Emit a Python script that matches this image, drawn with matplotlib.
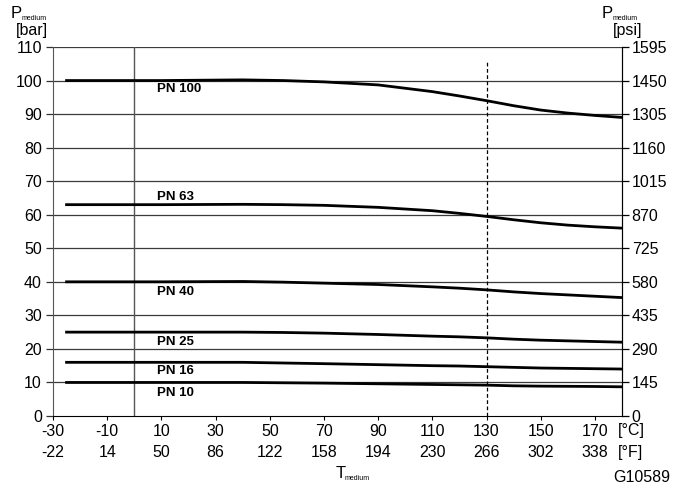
import matplotlib
matplotlib.use("Agg")
import matplotlib.pyplot as plt

plt.rcParams['font.family'] = ['Liberation Sans', 'DejaVu Sans']

# ---- data ----
temps_c = [-25, 10, 40, 55, 70, 90, 110, 120, 130, 140, 150, 160, 170, 180]
pn100 = [100, 100, 100.2, 100.0, 99.6, 98.7, 96.7, 95.4, 94.0, 92.5, 91.2, 90.3, 89.6, 89.0]
pn63 = [63, 63, 63.1, 63.0, 62.8, 62.2, 61.2, 60.4, 59.5, 58.5, 57.6, 56.9, 56.4, 56.0]
pn40 = [40, 40, 40.1, 39.9, 39.6, 39.2, 38.5, 38.1, 37.6, 37.0, 36.5, 36.1, 35.7, 35.3]
pn25 = [25, 25, 25, 24.9, 24.7, 24.3, 23.8, 23.6, 23.3, 22.9, 22.6, 22.4, 22.2, 22.0]
pn16 = [16, 16, 16, 15.8, 15.6, 15.3, 15.0, 14.9, 14.7, 14.5, 14.3, 14.2, 14.1, 14.0]
pn10 = [10, 10, 10, 9.9, 9.8, 9.6, 9.4, 9.3, 9.2, 9.0, 8.9, 8.85, 8.8, 8.7]
series = [("PN 100", pn100, 97.4), ("PN 63", pn63, 65.4), ("PN 40", pn40, 37.0),
          ("PN 25", pn25, 22.1), ("PN 16", pn16, 13.4), ("PN 10", pn10, 6.9)]

xticks_c = [-30, -10, 10, 30, 50, 70, 90, 110, 130, 150, 170]
xticks_f = [-22, 14, 50, 86, 122, 158, 194, 230, 266, 302, 338]
yticks_bar = list(range(0, 111, 10))
yticks_psi = list(range(0, 1596, 145))

fig = plt.figure(figsize=(6.83, 4.88), dpi=100)
ax = fig.add_axes([53/683, 1-416/488, (622-53)/683, (416-47)/488])
ax.set_xlim(-30, 180)
ax.set_ylim(0, 110)

# gridlines
for v in yticks_bar[1:]:
    ax.axhline(v, color='#3a3a3a', lw=0.9, zorder=1)
# vertical line at 0 C
ax.axvline(0, color='#555555', lw=1.0, zorder=1)
# dashed line at 130 C
ax.plot([130, 130], [0, 105.5], color='black', lw=0.9, ls=(0, (3, 2)), zorder=2)

for name, vals, ly in series:
    ax.plot(temps_c, vals, color='black', lw=2.0, zorder=3, solid_joinstyle='round')
    ax.text(8.5, ly, name, fontsize=9.5, fontweight='bold', va='center', ha='left')

ax.spines['top'].set_visible(False)
ax.spines['left'].set_color('#555555')
ax.spines['right'].set_color('black')
ax.spines['bottom'].set_color('black')

fs = 11.5
ax.set_yticks(yticks_bar)
ax.set_yticklabels([str(v) for v in yticks_bar])
ax.tick_params(axis='y', direction='out', length=5, width=0.9, color='#333333',
               labelsize=fs, pad=3)
ax.set_xticks(xticks_c)
ax.set_xticklabels([f"{c}\n{f}" for c, f in zip(xticks_c, xticks_f)], linespacing=1.45)
ax.tick_params(axis='x', direction='out', length=3, width=0.8, labelsize=fs, pad=3)

ax2 = ax.twinx()
ax2.set_ylim(0, 1595)
ax2.set_yticks(yticks_psi)
ax2.set_yticklabels([str(v) for v in yticks_psi])
ax2.tick_params(axis='y', direction='out', length=5, width=0.9, labelsize=fs, pad=2)
for s in ['top', 'left', 'bottom']:
    ax2.spines[s].set_visible(False)

# unit suffixes on last tick
fig.text(618/683, 1-431/488, "[°C]", fontsize=fs, va='center', ha='left')
fig.text(618/683, 1-452/488, "[°F]", fontsize=fs, va='center', ha='left')

# axis titles
fig.text(11/683, 1-14/488, "P", fontsize=12, va='center', ha='left')
fig.text(22/683, 1-18/488, "medium", fontsize=5, va='center', ha='left')
fig.text(16/683, 1-30/488, "[bar]", fontsize=fs, va='center', ha='left')
fig.text(602/683, 1-14/488, "P", fontsize=12, va='center', ha='left')
fig.text(613/683, 1-18/488, "medium", fontsize=5, va='center', ha='left')
fig.text(613/683, 1-30/488, "[psi]", fontsize=fs, va='center', ha='left')
fig.text(336/683, 1-473/488, "T", fontsize=12, va='center', ha='left')
fig.text(345/683, 1-478/488, "medium", fontsize=5, va='center', ha='left')
fig.text(670/683, 1-477/488, "G10589", fontsize=fs, va='center', ha='right')

fig.savefig("out.png", dpi=100)
